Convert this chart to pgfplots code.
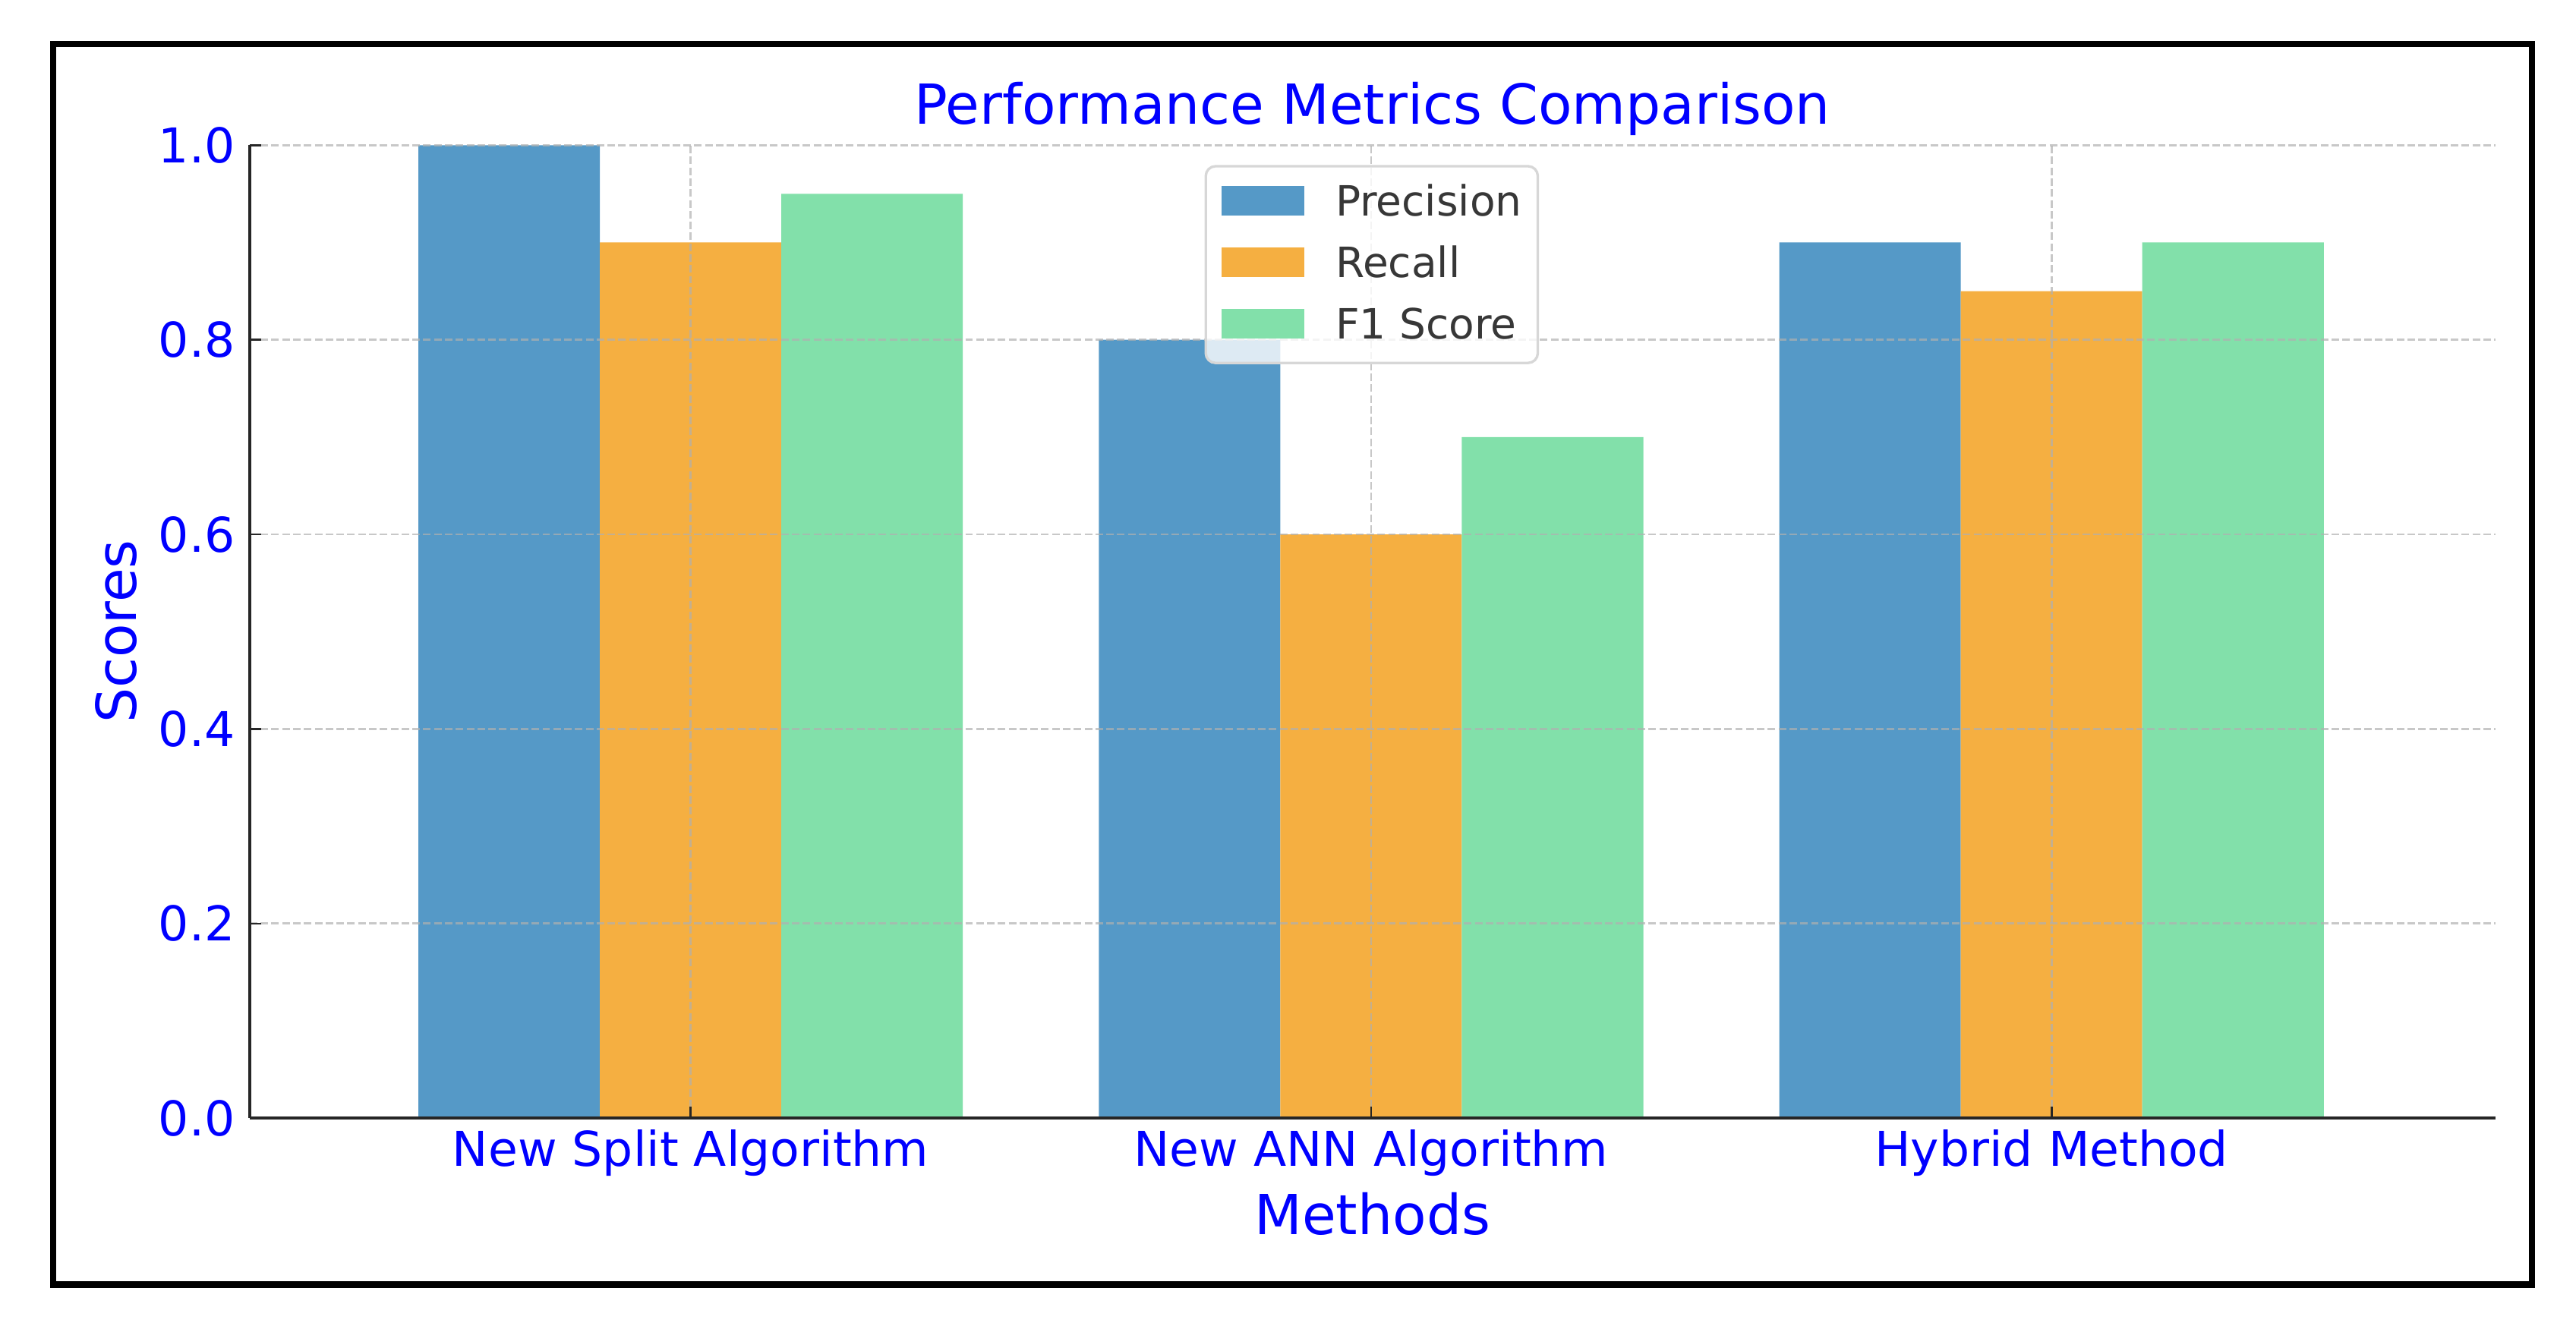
\documentclass[border=0pt]{standalone}
\usepackage{fontspec}
\setmainfont{DejaVu Sans}
\usepackage{pgfplots}
\pgfplotsset{compat=1.18}
\definecolor{cblue}{RGB}{85,153,199}
\definecolor{corange}{RGB}{245,175,65}
\definecolor{cgreen}{RGB}{130,224,170}
\definecolor{gridc}{HTML}{B0B0B0}
\definecolor{legtext}{RGB}{55,55,55}
\definecolor{legframe}{RGB}{215,215,215}
\pgfplotsset{barleg/.style={legend image code/.code={%
  \fill[##1, draw=none, fill opacity=1, sharp corners] (0pt,-3.75pt) rectangle (25.2pt,5.25pt);
  \path (34.7pt,0pt);}}}
\begin{document}
\begin{tikzpicture}
\path[use as bounding box] (-76.0pt,-64.0pt) rectangle (708.0pt,340.4pt);
\begin{axis}[
  at={(0pt,0pt)}, anchor=south west,
  scale only axis, width=683.4pt, height=296.2pt,
  xmin=-0.648, xmax=2.652, ymin=0, ymax=1,
  axis on top,
  axis x line*=bottom, axis y line*=left,
  axis line style={black!85, line width=1pt},
  xtick={0,1,2},
  xticklabels={New Split Algorithm, New ANN Algorithm, Hybrid Method},
  ytick={0,0.2,0.4,0.6,0.8,1},
  yticklabels={0.0,0.2,0.4,0.6,0.8,1.0},
  tick align=inside, major tick length=3.5pt,
  tick style={black!85, line width=0.6pt},
  xticklabel style={font=\fontsize{14.6}{17}\selectfont, text=blue, anchor=base, inner sep=0pt, yshift=-14.6pt},
  yticklabel style={font=\fontsize{14.6}{17}\selectfont, text=blue, anchor=east, inner sep=0pt, xshift=-4.3pt},
  grid=major,
  major grid style={draw=gridc, opacity=0.7, line width=0.62pt, dash pattern=on 2.3pt off 1pt},
  title={Performance Metrics Comparison},
  every axis title shift=0pt,
  title style={at={(axis description cs:0.5,1.0216)}, anchor=base, font=\fontsize{16.8}{20}\selectfont, text=blue, inner sep=0pt},
  xlabel={Methods},
  xlabel style={at={(axis description cs:0.5,-0.1199)}, anchor=base, font=\fontsize{16.8}{20}\selectfont, text=blue, inner sep=0pt},
  ylabel={Scores},
  ylabel style={at={(axis description cs:-0.0504,0.5)}, anchor=base, font=\fontsize{16.8}{20}\selectfont, text=blue, inner sep=0pt},
  legend cell align=left,
  legend style={at={(axis description cs:0.4252,0.9797)}, anchor=north west,
    draw=legframe, line width=0.77pt, rounded corners=3pt,
    fill=white, fill opacity=0.8, draw opacity=1, text opacity=1,
    inner xsep=4.85pt, inner ysep=1.9pt, row sep=0pt,
    font=\fontsize{12.7}{15}\selectfont, text=legtext,
    cells={anchor=west},
    nodes={inner sep=0pt, text height=13.23pt, text depth=5.47pt}},
]
\addplot[ybar, fill=cblue, draw=none, bar width=0.2667, bar shift=-0.2667, barleg]
  coordinates {(0,1.00) (1,0.80) (2,0.90)};
\addplot[ybar, fill=corange, draw=none, bar width=0.2667, bar shift=0, barleg]
  coordinates {(0,0.90) (1,0.60) (2,0.85)};
\addplot[ybar, fill=cgreen, draw=none, bar width=0.2667, bar shift=0.2667, barleg]
  coordinates {(0,0.95) (1,0.70) (2,0.90)};
\legend{Precision, Recall, F1 Score}
\end{axis}
\draw[line width=2pt, black] (-59.85pt,-50.6pt) rectangle (694.6pt,327.0pt);
\end{tikzpicture}
\end{document}
